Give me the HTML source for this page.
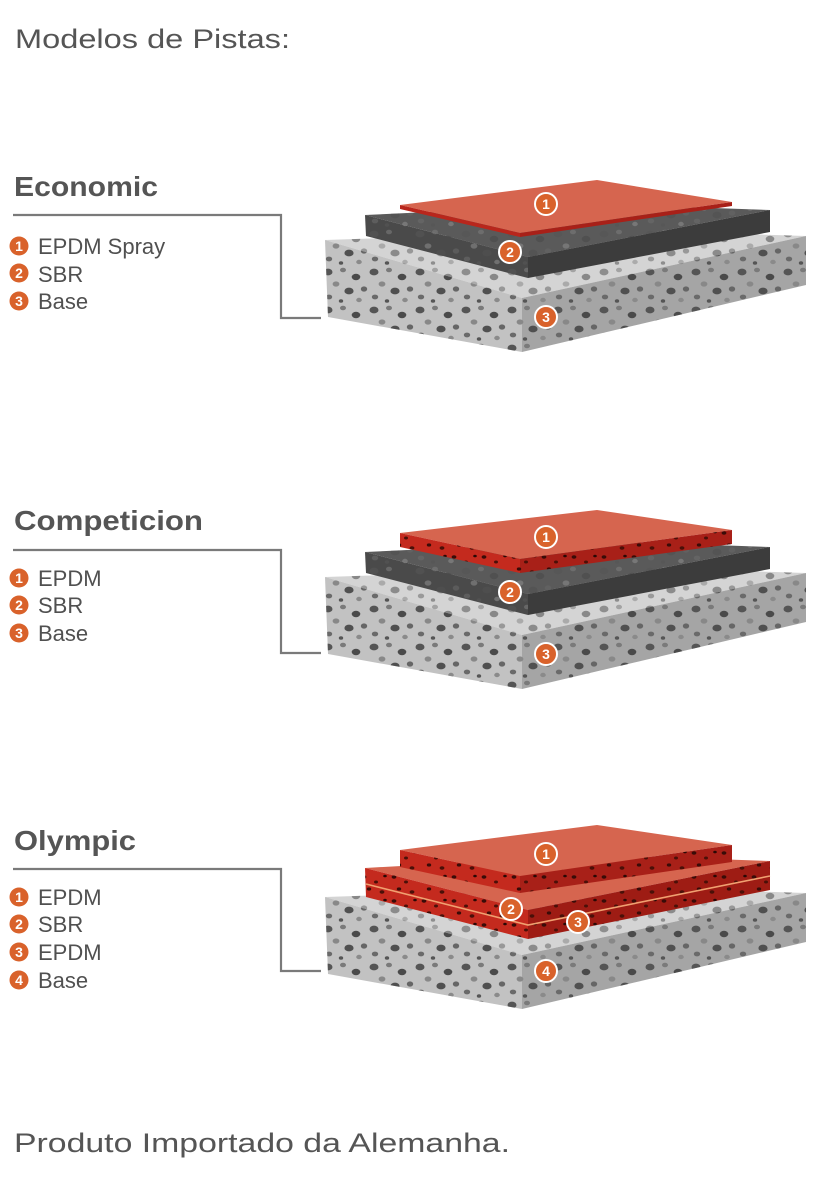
<!DOCTYPE html>
<html><head><meta charset="utf-8"><style>
html,body{margin:0;padding:0;background:#fff}
svg{display:block}
text{font-family:"Liberation Sans",sans-serif}
</style></head><body>
<svg width="838" height="1185" viewBox="0 0 838 1185" xmlns="http://www.w3.org/2000/svg">
<defs>
<pattern id="spk" width="46" height="38" patternUnits="userSpaceOnUse">
<ellipse cx="6" cy="6" rx="4.5" ry="3.4" fill="#555"/>
<ellipse cx="21" cy="4" rx="3" ry="2.3" fill="#7a7a7a"/>
<ellipse cx="34" cy="11" rx="4.3" ry="3.2" fill="#4a4a4a"/>
<ellipse cx="14" cy="18" rx="3.4" ry="2.6" fill="#888"/>
<ellipse cx="42" cy="23" rx="3.2" ry="2.6" fill="#666"/>
<ellipse cx="27" cy="25" rx="4.6" ry="3.4" fill="#505050"/>
<ellipse cx="7" cy="31" rx="3.2" ry="2.4" fill="#6a6a6a"/>
<ellipse cx="37" cy="34" rx="2.8" ry="2.2" fill="#8a8a8a"/>
<ellipse cx="19" cy="35" rx="2.2" ry="1.8" fill="#555"/>
</pattern>
<pattern id="rspk" width="30" height="24" patternUnits="userSpaceOnUse">
<ellipse cx="4" cy="4" rx="2.4" ry="1.7" fill="#3a0c08"/>
<ellipse cx="16" cy="9" rx="2" ry="1.5" fill="#4a1008"/>
<ellipse cx="25" cy="3" rx="1.8" ry="1.3" fill="#2a0805"/>
<ellipse cx="9" cy="16" rx="2.2" ry="1.6" fill="#3a0c08"/>
<ellipse cx="22" cy="19" rx="2.4" ry="1.7" fill="#4a1008"/>
</pattern>
<g id="c" ><circle r="11" fill="#d9622b" stroke="#fff" stroke-width="2"/></g>
</defs>

<text x="15" y="48" font-size="27" fill="#555" textLength="275" lengthAdjust="spacingAndGlyphs">Modelos de Pistas:</text>

<!-- ECONOMIC -->
<g>
<text x="14" y="196" font-size="28" font-weight="bold" fill="#555" textLength="144" lengthAdjust="spacingAndGlyphs">Economic</text>
<polyline points="13,215 281,215 281,318 321,318" fill="none" stroke="#7a7a7a" stroke-width="2.2"/>
<g font-size="22" fill="#505050">
<circle cx="19" cy="246" r="9.5" fill="#d9622b"/><text x="19" y="251" font-size="14" font-weight="bold" fill="#fff" text-anchor="middle">1</text><text x="38" y="254">EPDM Spray</text>
<circle cx="19" cy="273" r="9.5" fill="#d9622b"/><text x="19" y="278" font-size="14" font-weight="bold" fill="#fff" text-anchor="middle">2</text><text x="38" y="282">SBR</text>
<circle cx="19" cy="301" r="9.5" fill="#d9622b"/><text x="19" y="306" font-size="14" font-weight="bold" fill="#fff" text-anchor="middle">3</text><text x="38" y="309">Base</text>
</g>
<polygon points="325,240 620,230 806,236 522,298" fill="#d4d4d4"/>
<polygon points="325,240 620,230 806,236 522,298" fill="url(#spk)" opacity="0.55"/>
<polygon points="325,240 522,298 522,352 328,317" fill="#c2c2c2"/>
<polygon points="325,240 522,298 522,352 328,317" fill="url(#spk)"/>
<polygon points="522,298 806,236 806,285 522,352" fill="#a5a5a5"/>
<polygon points="522,298 806,236 806,285 522,352" fill="url(#spk)"/>
<polygon points="365,215 600,204 770,210 528,257" fill="#5a5a5a"/>
<polygon points="365,215 528,257 528,278 366,236" fill="#4a4a4a"/>
<polygon points="528,257 770,210 770,232 528,278" fill="#3c3c3c"/>
<polygon points="365,215 600,204 770,210 528,257 528,278 366,236" fill="url(#spk)" opacity="0.6"/>
<polygon points="400,205 597,180 732,202 520,233" fill="#d6654f"/>
<polygon points="400,205 520,233 520,237 400,209" fill="#b8261c"/>
<polygon points="520,233 732,202 732,206 520,237" fill="#a82018"/>
<use href="#c" x="546" y="204"/><text x="546" y="209" font-size="14" font-weight="bold" fill="#fff" text-anchor="middle">1</text>
<use href="#c" x="510" y="252"/><text x="510" y="257" font-size="14" font-weight="bold" fill="#fff" text-anchor="middle">2</text>
<use href="#c" x="546" y="317"/><text x="546" y="322" font-size="14" font-weight="bold" fill="#fff" text-anchor="middle">3</text>
</g>

<!-- COMPETICION -->
<g>
<text x="14" y="530" font-size="28" font-weight="bold" fill="#555" textLength="189" lengthAdjust="spacingAndGlyphs">Competicion</text>
<polyline points="13,550 281,550 281,653 321,653" fill="none" stroke="#7a7a7a" stroke-width="2.2"/>
<g font-size="22" fill="#505050">
<circle cx="19" cy="578" r="9.5" fill="#d9622b"/><text x="19" y="583" font-size="14" font-weight="bold" fill="#fff" text-anchor="middle">1</text><text x="38" y="586">EPDM</text>
<circle cx="19" cy="605" r="9.5" fill="#d9622b"/><text x="19" y="610" font-size="14" font-weight="bold" fill="#fff" text-anchor="middle">2</text><text x="38" y="613">SBR</text>
<circle cx="19" cy="633" r="9.5" fill="#d9622b"/><text x="19" y="638" font-size="14" font-weight="bold" fill="#fff" text-anchor="middle">3</text><text x="38" y="641">Base</text>
</g>
<g transform="translate(0,337)">
<polygon points="325,240 620,230 806,236 522,298" fill="#d4d4d4"/>
<polygon points="325,240 620,230 806,236 522,298" fill="url(#spk)" opacity="0.55"/>
<polygon points="325,240 522,298 522,352 328,317" fill="#c2c2c2"/>
<polygon points="325,240 522,298 522,352 328,317" fill="url(#spk)"/>
<polygon points="522,298 806,236 806,285 522,352" fill="#a5a5a5"/>
<polygon points="522,298 806,236 806,285 522,352" fill="url(#spk)"/>
<polygon points="365,215 600,204 770,210 528,257" fill="#5a5a5a"/>
<polygon points="365,215 528,257 528,278 366,236" fill="#4a4a4a"/>
<polygon points="528,257 770,210 770,232 528,278" fill="#3c3c3c"/>
<polygon points="365,215 600,204 770,210 528,257 528,278 366,236" fill="url(#spk)" opacity="0.6"/>
<polygon points="400,196 597,173 732,193 520,222" fill="#d6654f"/>
<polygon points="400,196 520,222 520,236 400,210" fill="#c42a1e"/>
<polygon points="520,222 732,193 732,207 520,236" fill="#a82018"/>
<polygon points="400,196 520,222 732,193 732,207 520,236 400,210" fill="url(#rspk)"/>
<use href="#c" x="546" y="200"/><text x="546" y="205" font-size="14" font-weight="bold" fill="#fff" text-anchor="middle">1</text>
<use href="#c" x="510" y="255"/><text x="510" y="260" font-size="14" font-weight="bold" fill="#fff" text-anchor="middle">2</text>
<use href="#c" x="546" y="317"/><text x="546" y="322" font-size="14" font-weight="bold" fill="#fff" text-anchor="middle">3</text>
</g>
</g>

<!-- OLYMPIC -->
<g>
<text x="14" y="850" font-size="28" font-weight="bold" fill="#555" textLength="122" lengthAdjust="spacingAndGlyphs">Olympic</text>
<polyline points="13,869 281,869 281,971 321,971" fill="none" stroke="#7a7a7a" stroke-width="2.2"/>
<g font-size="22" fill="#505050">
<circle cx="19" cy="897" r="9.5" fill="#d9622b"/><text x="19" y="902" font-size="14" font-weight="bold" fill="#fff" text-anchor="middle">1</text><text x="38" y="905">EPDM</text>
<circle cx="19" cy="924" r="9.5" fill="#d9622b"/><text x="19" y="929" font-size="14" font-weight="bold" fill="#fff" text-anchor="middle">2</text><text x="38" y="932">SBR</text>
<circle cx="19" cy="952" r="9.5" fill="#d9622b"/><text x="19" y="957" font-size="14" font-weight="bold" fill="#fff" text-anchor="middle">3</text><text x="38" y="960">EPDM</text>
<circle cx="19" cy="980" r="9.5" fill="#d9622b"/><text x="19" y="985" font-size="14" font-weight="bold" fill="#fff" text-anchor="middle">4</text><text x="38" y="988">Base</text>
</g>
<g transform="translate(0,657)">
<polygon points="325,240 620,230 806,236 522,298" fill="#d4d4d4"/>
<polygon points="325,240 620,230 806,236 522,298" fill="url(#spk)" opacity="0.55"/>
<polygon points="325,240 522,298 522,352 328,317" fill="#c2c2c2"/>
<polygon points="325,240 522,298 522,352 328,317" fill="url(#spk)"/>
<polygon points="522,298 806,236 806,285 522,352" fill="#a5a5a5"/>
<polygon points="522,298 806,236 806,285 522,352" fill="url(#spk)"/>
<polygon points="365,211 600,198 770,204 528,253" fill="#d6654f"/>
<polygon points="365,211 528,253 528,282 366,240" fill="#c42a1e"/>
<polygon points="528,253 770,204 770,233 528,282" fill="#9e1c14"/>
<polygon points="365,211 528,253 770,204 770,233 528,282 366,240" fill="url(#rspk)"/>
<polyline points="366,227 528,268 770,219" fill="none" stroke="#f0a070" stroke-width="1.6"/>
<polygon points="400,193 597,168 732,188 520,219" fill="#d6654f"/>
<polygon points="400,193 520,219 520,236 400,210" fill="#c42a1e"/>
<polygon points="520,219 732,188 732,205 520,236" fill="#a82018"/>
<polygon points="400,193 520,219 732,188 732,205 520,236 400,210" fill="url(#rspk)"/>
<use href="#c" x="546" y="197"/><text x="546" y="202" font-size="14" font-weight="bold" fill="#fff" text-anchor="middle">1</text>
<use href="#c" x="511" y="252"/><text x="511" y="257" font-size="14" font-weight="bold" fill="#fff" text-anchor="middle">2</text>
<use href="#c" x="578" y="265"/><text x="578" y="270" font-size="14" font-weight="bold" fill="#fff" text-anchor="middle">3</text>
<use href="#c" x="546" y="314"/><text x="546" y="319" font-size="14" font-weight="bold" fill="#fff" text-anchor="middle">4</text>
</g>
</g>

<text x="14" y="1152" font-size="27" fill="#555" textLength="496" lengthAdjust="spacingAndGlyphs">Produto Importado da Alemanha.</text>
</svg>
</body></html>
